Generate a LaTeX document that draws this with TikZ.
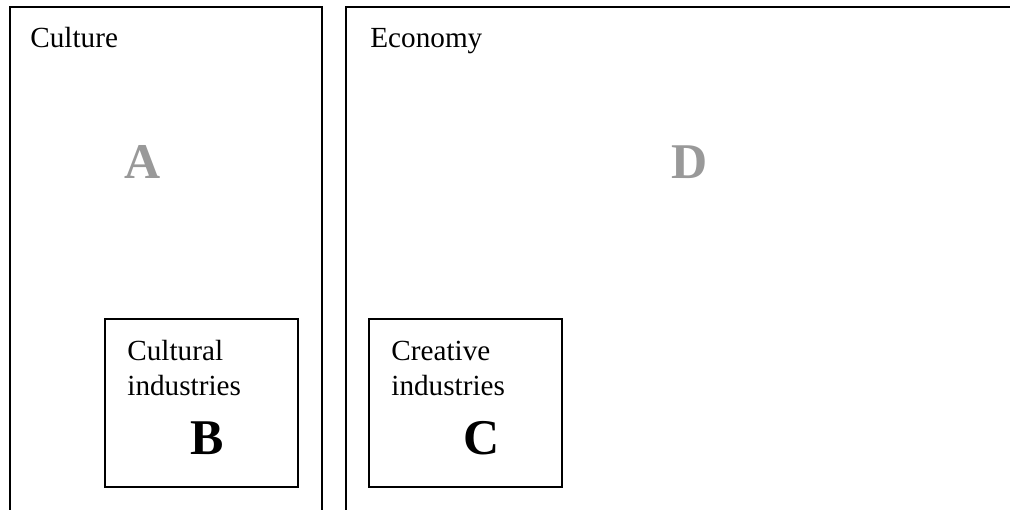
\documentclass[tikz,border=0pt]{standalone}
\usepackage{fontspec}
\setmainfont{Liberation Serif}
\usepackage{tikz}

\tikzset{
  frame/.style={line width=1pt},
  caption/.style={anchor=base west, inner sep=0pt, font=\fontsize{14.6}{17.5}\selectfont},
  biglabel/.style={anchor=base, inner sep=0pt, font=\fontsize{25}{30}\selectfont\bfseries},
}

\begin{document}
\begin{tikzpicture}[x=0.5pt, y=-0.5pt]
			\useasboundingbox (0,0) rectangle (1010,509);
			
			% Culture frame (open at the bottom)
			\draw[frame] (10,515) -- (10,7) -- (322,7) -- (322,515);
			\node[caption] (culture) at (30,47) {Culture};
			\node[biglabel, gray!80] (a) at (143,178) {A};
			
			% Economy frame (runs off to the right)
			\draw[frame] (346,515) -- (346,7) -- (1015,7);
			\node[caption] (economy) at (370,47) {Economy};
			\node[biglabel, gray!80] (d) at (690,178) {D};
			
			% Cultural industries
			\draw[frame] (105,319) rectangle (298,487);
			\node[caption] (cultural) at (127,360) {Cultural};
			\node[caption] (cultind) at (127,395) {industries};
			\node[biglabel] (b) at (207,454) {B};
			
			% Creative industries
			\draw[frame] (369,319) rectangle (562,487);
			\node[caption] (creative) at (391,360) {Creative};
			\node[caption] (creaind) at (391,395) {industries};
			\node[biglabel] (c) at (482,454) {C};
		\end{tikzpicture}
\end{document}
